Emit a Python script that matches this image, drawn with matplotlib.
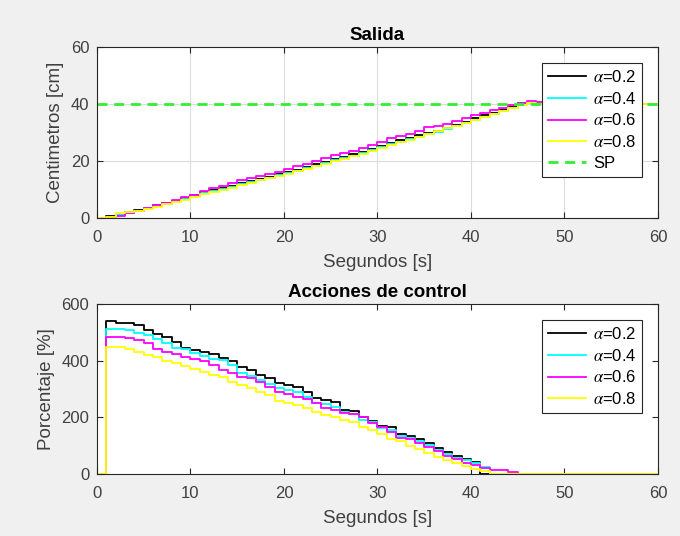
import matplotlib
matplotlib.use('Agg')
from matplotlib import pyplot as plt
import numpy as np

plt.rcParams['font.family'] = ['Liberation Sans', 'DejaVu Sans']
plt.rcParams['mathtext.fontset'] = 'stix'

t = np.arange(0, 61)

# salida (nivel en cm), valor en cada intervalo [t, t+1)
y_02 = [0, 0.7, 1.2, 2.0, 2.8, 3.6, 4.5, 5.3, 6.0, 7.0, 8.2, 9.0, 9.8, 10.5, 11.3,
        12.2, 13.0, 13.7, 14.5, 15.4, 16.0, 17.0, 17.8, 18.8, 19.8, 20.6, 21.4, 22.3,
        23.3, 24.2, 25.4, 26.3, 27.2, 28.0, 29.0, 29.8, 30.6, 31.7, 32.6, 33.8, 35.0,
        36.0, 36.8, 37.8, 39.0, 40.2, 40.4] + [40.0] * 14
y_04 = [0, 0.4, 1.0, 1.8, 2.6, 3.4, 4.2, 5.0, 5.8, 6.6, 7.8, 8.6, 9.3, 10.1, 11.0,
        11.8, 12.6, 13.4, 14.2, 15.0, 15.8, 16.6, 17.5, 18.4, 19.3, 20.2, 21.0, 21.9,
        22.8, 23.8, 24.8, 25.8, 26.7, 27.6, 28.5, 29.4, 30.3, 31.2, 32.3, 33.4, 34.5,
        35.5, 36.5, 37.6, 38.7, 39.8, 40.4, 40.2] + [40.0] * 13
y_06 = [0, 0.2, 0.8, 1.6, 2.5, 3.4, 4.5, 5.4, 6.3, 7.2, 8.0, 9.5, 10.5, 11.2, 12.2,
        13.3, 14.0, 14.8, 15.6, 16.3, 17.2, 18.2, 19.0, 20.1, 21.2, 22.2, 22.8, 23.6,
        24.6, 25.6, 26.8, 28.0, 28.6, 29.5, 30.6, 31.8, 32.2, 33.0, 34.0, 35.0, 36.2,
        37.0, 37.8, 38.6, 39.5, 40.5, 41.0, 40.6] + [40.0] * 13
y_08 = [0, 0.3, 1.8, 2.0, 2.5, 3.1, 3.8, 4.8, 5.5, 6.3, 7.3, 8.3, 9.0, 9.8, 10.6,
        11.5, 12.4, 13.2, 14.0, 14.8, 15.6, 16.5, 17.3, 18.2, 19.1, 20.0, 20.8, 21.6,
        22.6, 23.6, 24.4, 25.5, 26.5, 27.4, 28.4, 29.3, 30.4, 31.5, 32.4, 33.4, 34.5,
        35.5, 36.5, 37.5, 38.6, 39.6, 40.2, 40.0] + [40.0] * 13
sp = 40

# acciones de control (%)
u_02 = [0, 541, 534, 534, 526, 508, 496, 485, 467, 446, 438, 430, 424, 411, 399,
        377, 367, 349, 340, 320, 313, 308, 288, 267, 261, 255, 226, 222, 202, 188,
        171, 167, 140, 135, 124, 108, 93, 77, 65, 53, 43] + [0] * 20
u_04 = [0, 512, 512, 508, 499, 491, 476, 461, 446, 441, 428, 416, 407, 402, 385,
        355, 346, 332, 318, 302, 296, 291, 273, 252, 246, 238, 220, 212, 191, 185,
        161, 155, 135, 128, 115, 102, 85, 70, 58, 48, 38, 26] + [0] * 19
u_06 = [0, 485, 485, 481, 473, 461, 443, 432, 424, 414, 406, 399, 385, 367, 355,
        344, 340, 326, 308, 291, 283, 273, 264, 252, 232, 226, 217, 212, 200, 179,
        167, 150, 128, 122, 108, 95, 80, 65, 52, 40, 30, 22, 14, 14, 7] + [0] * 16
u_08 = [0, 449, 449, 441, 432, 420, 412, 400, 391, 381, 370, 361, 349, 341, 326,
        314, 302, 291, 279, 259, 252, 244, 232, 220, 209, 200, 191, 185, 167, 155,
        140, 122, 115, 100, 88, 75, 60, 48, 38, 28, 18, 10] + [0] * 19

labels = [r'$\alpha$=0.2', r'$\alpha$=0.4', r'$\alpha$=0.6', r'$\alpha$=0.8']
colors = ['black', '#00ffff', '#ff00ff', '#ffff00']

fig = plt.figure(figsize=(6.8, 5.36), dpi=100, facecolor='#f0f0f0')
ax1 = fig.add_axes([0.1426, 0.5933, 0.825, 0.319])
ax2 = fig.add_axes([0.1426, 0.1157, 0.825, 0.317])

for y, c, lab in zip([y_02, y_04, y_06, y_08], colors, labels):
    ax1.step(t, y, where='post', color=c, lw=1.3, label=lab)
ax1.plot([0, 60], [sp, sp], '--', color='#33ee33', lw=2, dashes=(3.6, 2.4), label='SP')

for u, c, lab in zip([u_02, u_04, u_06, u_08], colors, labels):
    ax2.step(t, u, where='post', color=c, lw=1.3, label=lab)

ax1.set_ylim(0, 60)
ax1.set_yticks([0, 20, 40, 60])
ax1.grid(True, color='#dcdcdc', lw=0.8)
ax1.set_title('Salida', fontsize=13.5, fontweight='bold', pad=5)
ax1.set_ylabel('Centimetros [cm]', fontsize=13.5, color='#404040', labelpad=5)

ax2.set_ylim(0, 600)
ax2.set_yticks([0, 200, 400, 600])
ax2.set_title('Acciones de control', fontsize=13.5, fontweight='bold', pad=5)
ax2.set_ylabel('Porcentaje [%]', fontsize=13.5, color='#404040', labelpad=5)

for ax in (ax1, ax2):
    ax.set_xlim(0, 60)
    ax.set_xticks(range(0, 61, 10))
    ax.set_xlabel('Segundos [s]', fontsize=13.5, color='#404040', labelpad=6)
    ax.set_axisbelow(True)
    ax.tick_params(direction='in', top=True, right=True, length=4, width=0.8,
                   colors='#262626', labelcolor='#404040', labelsize=12)
    ax.tick_params(axis='x', pad=9)
    ax.tick_params(axis='y', pad=5.5)
    for s in ax.spines.values():
        s.set_color('#262626')
        s.set_linewidth(0.8)
    leg = ax.legend(loc='upper right', fontsize=12, fancybox=False, framealpha=1,
                    edgecolor='#262626', handlelength=2.3, handletextpad=0.4,
                    borderaxespad=0.95, labelspacing=0.35, borderpad=0.35)
    leg.get_frame().set_linewidth(0.8)

fig.savefig('out.png', dpi=100, facecolor=fig.get_facecolor())
